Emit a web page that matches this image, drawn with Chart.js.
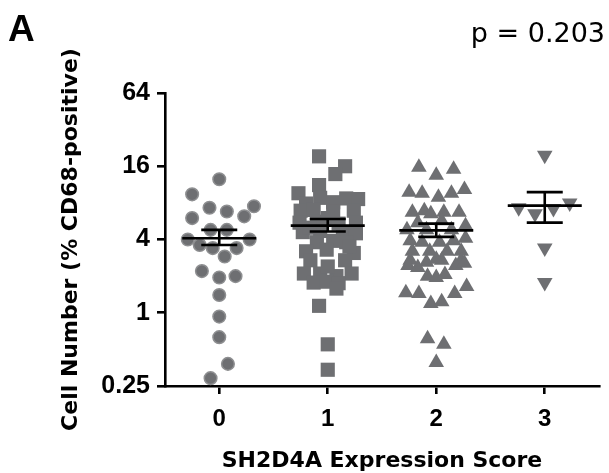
<!DOCTYPE html>
<html lang="en">
<head>
  <meta charset="UTF-8">
  <title>SH2D4A CD68</title>
  <script src="https://cdn.jsdelivr.net/npm/chart.js@4.4.0/dist/chart.umd.min.js"></script>
  <style>
    html, body { margin: 0; padding: 0; background: #fff; }
    #wrap { width: 609px; height: 473px; }
  </style>
</head>
<body>
<div id="wrap"><canvas id="chart" width="609" height="473"></canvas></div>
<script>
// categories and tick labels
const categories = ['0', '1', '2', '3'];
const xTicks = [0, 1, 2, 3];
const yTicks = [0.25, 1, 4, 16, 64];
const panelLabel = 'A';
const pText = 'p = 0.203';

// score 0 (circles): jittered x and % CD68-positive
const score0X = [0.0, -0.25, -0.09, 0.07, 0.32, 0.23, -0.25, -0.08, 0.07, -0.29, 0.28, -0.18, -0.06, 0.05, 0.16, -0.16, 0.0, 0.15, 0.0, 0.0, 0.0, 0.08, -0.08];
const score0Y = [12.5, 9.4, 7.3, 6.8, 7.5, 6.2, 6.0, 4.8, 4.8, 4.0, 4.0, 3.6, 3.4, 2.9, 3.4, 2.2, 1.95, 2.0, 1.4, 0.93, 0.63, 0.38, 0.29];

// score 1 (squares)
const score1X = [-0.08, 0.16, 0.07, -0.08, -0.27, -0.07, 0.17, 0.28, -0.2, 0.05, -0.25, -0.13, 0.05, 0.24, -0.26, -0.1, 0.1, 0.26, -0.23, -0.07, 0.14, 0.26, -0.1, 0.05, 0.17, -0.2, -0.01, 0.24, -0.16, 0.16, -0.22, -0.07, 0.08, 0.22, -0.13, -0.01, 0.1, 0.08, -0.08, 0.0, 0.0, 0.0, -0.17, 0.2, 0.0];
const score1Y = [19.3, 16, 13.8, 11.2, 9.6, 8.8, 8.7, 8.6, 7.9, 8.1, 6.9, 7.0, 6.8, 6.9, 5.5, 5.6, 5.4, 5.5, 4.6, 4.7, 4.6, 4.5, 3.8, 3.9, 3.8, 3.2, 3.3, 3.1, 2.7, 2.7, 2.1, 2.1, 2.0, 2.1, 1.77, 1.8, 1.75, 1.58, 1.14, 0.55, 0.34, 6.0, 5.0, 3.5, 2.4];

// score 2 (triangles)
const score2X = [-0.16, 0.0, 0.16, -0.25, -0.13, 0.02, 0.14, 0.26, -0.22, -0.11, -0.05, 0.07, 0.21, -0.17, 0.05, 0.27, -0.27, -0.09, 0.14, -0.24, -0.13, 0.03, 0.16, 0.27, -0.22, -0.06, 0.1, 0.23, -0.24, -0.09, 0.05, 0.23, -0.26, -0.17, 0.0, 0.18, 0.26, -0.08, 0.0, 0.08, -0.28, -0.16, -0.05, 0.05, 0.17, 0.28, -0.08, 0.07, 0.0];
const score2Y = [15.7, 13.5, 15.1, 9.8, 9.6, 8.9, 9.6, 10.3, 6.7, 6.9, 6.5, 6.7, 6.7, 5.5, 5.7, 5.2, 4.8, 4.8, 4.8, 3.9, 3.8, 3.8, 3.9, 4.1, 3.2, 3.2, 3.2, 3.2, 2.7, 2.6, 2.7, 2.7, 2.45, 2.35, 2.75, 2.45, 2.55, 2.0, 1.95, 2.06, 1.46, 1.44, 1.19, 1.23, 1.44, 1.64, 0.61, 0.55, 0.39];

// score 3 (inverted triangles)
const score3X = [0.0, -0.24, -0.09, 0.08, 0.23, 0.0, 0.0];
const score3Y = [19.7, 7.3, 6.5, 7.2, 8.0, 3.4, 1.77];

// mean and SEM bars per score
const means = [4.1, 5.2, 4.75, 7.6];
const semUpper = [4.8, 5.9, 5.4, 9.8];
const semLower = [3.6, 4.65, 4.2, 5.5];

const grey = '#6e6f72';

function toPoints(xs, ys, offset) {
  return xs.map((x, i) => ({ x: offset + x, y: ys[i] }));
}

const meanBars = {
  id: 'meanBars',
  afterDatasetsDraw(chart) {
    const ctx = chart.ctx;
    const xs = chart.scales.x;
    const ys = chart.scales.y;
    ctx.save();
    ctx.strokeStyle = '#000';
    ctx.lineWidth = 2.6;
    xTicks.forEach((c, i) => {
      const cx = xs.getPixelForValue(c);
      const m = ys.getPixelForValue(means[i]);
      const u = ys.getPixelForValue(semUpper[i]);
      const l = ys.getPixelForValue(semLower[i]);
      ctx.beginPath();
      ctx.moveTo(cx - 37, m); ctx.lineTo(cx + 37, m);
      ctx.moveTo(cx, u); ctx.lineTo(cx, l);
      ctx.moveTo(cx - 18, u); ctx.lineTo(cx + 18, u);
      ctx.moveTo(cx - 18, l); ctx.lineTo(cx + 18, l);
      ctx.stroke();
    });
    ctx.restore();
  },
  afterDraw(chart) {
    const ctx = chart.ctx;
    ctx.save();
    ctx.fillStyle = '#000';
    ctx.textBaseline = 'alphabetic';
    ctx.font = 'bold 37px "Liberation Sans", Arial, sans-serif';
    ctx.textAlign = 'left';
    ctx.fillText(panelLabel, 8, 41);
    ctx.font = '27px "DejaVu Sans", sans-serif';
    ctx.textAlign = 'right';
    ctx.fillText(pText, 605, 42);
    ctx.restore();
  }
};

const ctx = document.getElementById('chart').getContext('2d');
new Chart(ctx, {
  type: 'scatter',
  data: {
    datasets: [
      { data: toPoints(score0X, score0Y, 0), pointStyle: 'circle', pointRadius: 6.3,
        backgroundColor: grey, borderColor: '#8e8f91', borderWidth: 1.5 },
      { data: toPoints(score1X, score1Y, 1), pointStyle: 'rect', pointRadius: 10,
        backgroundColor: grey, borderColor: grey, borderWidth: 0 },
      { data: toPoints(score2X, score2Y, 2), pointStyle: 'triangle', pointRadius: 9,
        backgroundColor: grey, borderColor: grey, borderWidth: 0 },
      { data: toPoints(score3X, score3Y, 3), pointStyle: 'triangle', pointRotation: 180, pointRadius: 9,
        backgroundColor: grey, borderColor: grey, borderWidth: 0 }
    ]
  },
  options: {
    responsive: false,
    animation: false,
    events: [],
    layout: { padding: { top: 93, right: 0, bottom: 0, left: 0 } },
    plugins: { legend: { display: false }, tooltip: { enabled: false } },
    scales: {
      x: {
        type: 'linear',
        min: -0.5,
        max: 3.5,
        afterBuildTicks: s => { s.ticks = xTicks.map(v => ({ value: v })); },
        afterFit: s => { s.height = 87; },
        border: { color: '#000', width: 2.6 },
        grid: { drawOnChartArea: false, drawTicks: true, tickLength: 8, color: '#000', lineWidth: 2.6 },
        ticks: {
          color: '#000', padding: 11,
          font: { family: '"Liberation Sans", Arial, sans-serif', size: 24, weight: 'bold' },
          callback: v => categories[v]
        },
        title: {
          display: true, text: 'SH2D4A Expression Score', color: '#000',
          font: { family: '"DejaVu Sans", sans-serif', size: 22, weight: 'bold', lineHeight: 1 },
          padding: { top: 0, bottom: 1 }
        }
      },
      y: {
        type: 'logarithmic',
        min: 0.25,
        max: 64,
        afterBuildTicks: s => { s.ticks = yTicks.map(v => ({ value: v })); },
        afterFit: s => { s.width = 165; },
        border: { color: '#000', width: 2.6 },
        grid: { drawOnChartArea: false, drawTicks: true, tickLength: 8, color: '#000', lineWidth: 2.6 },
        ticks: {
          color: '#000', padding: 7,
          font: { family: '"Liberation Sans", Arial, sans-serif', size: 25, weight: 'bold' },
          callback: v => String(v)
        },
        title: {
          display: true, text: 'Cell Number (% CD68-positive)', color: '#000',
          font: { family: '"DejaVu Sans", sans-serif', size: 22, weight: 'bold', lineHeight: 1 },
          padding: { top: 60, bottom: 0 }
        }
      }
    }
  },
  plugins: [meanBars]
});
</script>
</body>
</html>
